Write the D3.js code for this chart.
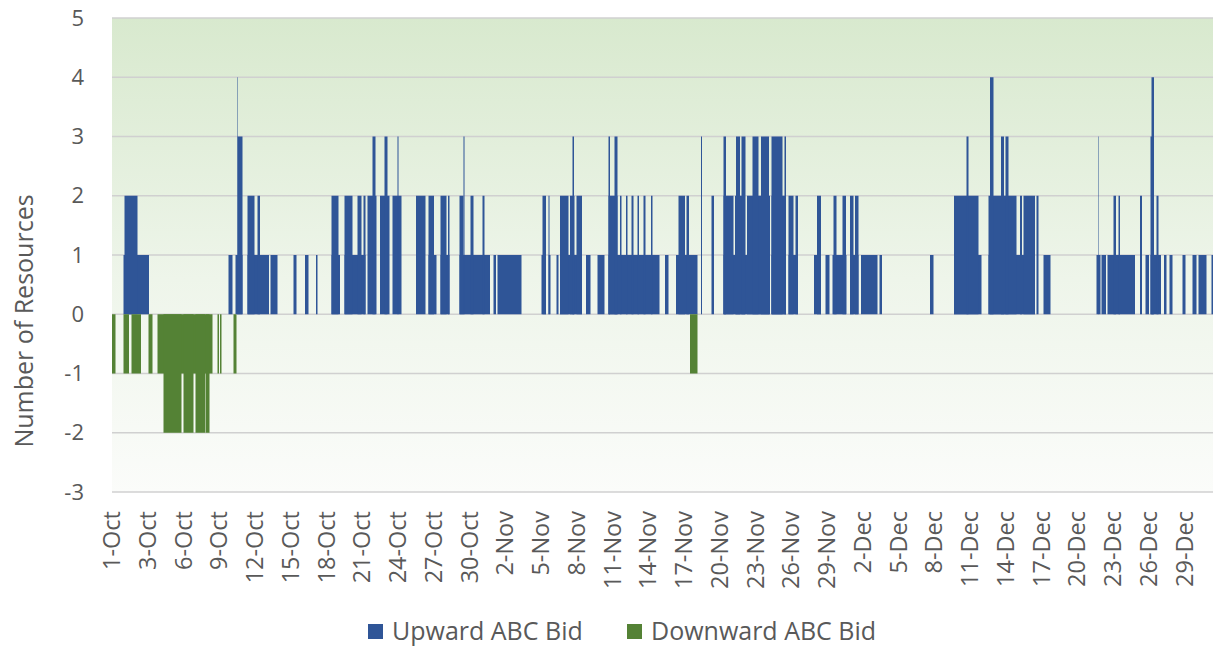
<!DOCTYPE html>
<html>
<head>
<meta charset="utf-8">
<script src="https://cdn.jsdelivr.net/npm/d3@7"></script>
<style>
  body { margin: 0; background: #fff; }
  text { font-family: 'Open Sans', sans-serif; fill: #595959; }
</style>
</head>
<body>
<div id="chart"></div>
<script>
// x labels, one every ~71.5 hourly periods
var tickLabels = ['1-Oct','3-Oct','6-Oct','9-Oct','12-Oct','15-Oct','18-Oct','21-Oct','24-Oct','27-Oct','30-Oct',
  '2-Nov','5-Nov','8-Nov','11-Nov','14-Nov','17-Nov','20-Nov','23-Nov','26-Nov','29-Nov',
  '2-Dec','5-Dec','8-Dec','11-Dec','14-Dec','17-Dec','20-Dec','23-Dec','26-Dec','29-Dec']
var tickStep = 71.5
var yTicks = [-3, -2, -1, 0, 1, 2, 3, 4, 5]
var totalHours = 2202

// [start hour, end hour, number of resources]
var upwardRuns = [
  [23,74,1],[25,51,2],
  [233,241,1],[247,261,1],[251,261,3],[251,252,4],
  [271,314,1],[271,285,2],[291,296,2],[317,331,1],
  [363,369,1],[386,393,1],[408,411,1],
  [439,456,1],[439,453,2],
  [465,507,1],[465,481,2],[491,499,2],[503,507,2],
  [511,529,2],[521,527,3],[536,555,2],[545,551,3],[561,579,2],[571,573,3],
  [608,627,2],[633,649,1],[633,644,2],[657,675,1],[657,669,2],[672,675,2],
  [695,756,1],[695,703,2],[703,705,3],[717,723,2],[741,745,2],
  [763,768,1],[771,819,1],
  [859,868,1],[861,868,2],[873,877,1],[873,875,2],[889,893,1],
  [896,940,1],[896,913,2],[916,925,2],[921,924,3],[929,940,2],
  [948,957,1],[971,985,1],
  [993,1095,1],[993,1011,2],[993,996,3],[1005,1011,3],
  [1016,1019,2],[1028,1031,2],[1039,1043,2],[1051,1054,2],[1063,1067,2],[1078,1081,2],
  [1106,1113,1],[1128,1171,1],[1133,1146,2],[1149,1154,2],[1178,1180,3],
  [1199,1204,2],
  [1223,1316,1],[1319,1348,1],
  [1223,1243,2],[1246,1266,2],[1270,1316,2],[1319,1348,2],
  [1223,1228,3],[1248,1256,3],[1259,1267,3],[1281,1293,3],[1298,1314,3],[1319,1341,3],[1345,1348,3],
  [1353,1372,1],[1353,1363,2],[1367,1372,2],
  [1404,1418,1],[1410,1418,2],[1427,1435,1],
  [1441,1469,1],[1443,1449,2],[1461,1468,2],
  [1476,1493,1],[1476,1483,2],[1486,1493,2],
  [1498,1531,1],[1535,1540,1],[1636,1643,1],
  [1684,1739,1],[1684,1733,2],[1709,1713,3],
  [1753,1846,1],[1753,1809,2],[1816,1820,2],[1823,1846,2],[1756,1763,4],[1778,1784,3],[1787,1793,3],
  [1849,1853,2],[1863,1877,1],
  [1969,1977,1],[1979,1988,1],[1991,2046,1],[1973,1974,3],[2003,2008,2],[2013,2016,2],
  [2056,2060,2],[2067,2074,1],
  [2077,2098,1],[2077,2083,3],[2079,2084,4],[2089,2093,2],
  [2104,2109,1],[2115,2121,1],[2141,2147,1],[2161,2169,1],[2173,2189,1],[2199,2202,1]
]

var downwardRuns = [
  [0,7,-1],[23,34,-1],[39,58,-1],[73,81,-1],[91,201,-1],
  [103,139,-2],[143,163,-2],[167,187,-2],[188,195,-2],
  [211,214,-1],[216,219,-1],[243,249,-1],
  [1156,1171,-1]
]

var width = 1213, height = 648
var plotLeft = 112, plotRight = 1213, plotTop = 18, plotBottom = 492

var svg = d3.select('#chart')
  .append('svg')
  .attr('width', width)
  .attr('height', height)

var x = d3.scaleLinear().domain([0, totalHours]).range([plotLeft, plotRight])
var y = d3.scaleLinear().domain([-3, 5]).range([plotBottom, plotTop])

//plot background
var grad = svg.append('defs').append('linearGradient')
  .attr('id', 'bg')
  .attr('x1', 0).attr('y1', 0).attr('x2', 0).attr('y2', 1)
grad.append('stop').attr('offset', '0%').attr('stop-color', '#d8e9ce')
grad.append('stop').attr('offset', '55%').attr('stop-color', '#eef5ea')
grad.append('stop').attr('offset', '100%').attr('stop-color', '#fbfcfa')

svg.append('rect')
  .attr('x', plotLeft)
  .attr('y', plotTop)
  .attr('width', plotRight - plotLeft)
  .attr('height', plotBottom - plotTop)
  .attr('fill', 'url(#bg)')

//gridlines
svg.selectAll('.grid')
  .data(yTicks)
  .enter().append('line')
  .attr('x1', plotLeft)
  .attr('x2', plotRight)
  .attr('y1', d => y(d))
  .attr('y2', d => y(d))
  .attr('stroke', '#d0d0d0')
  .attr('stroke-width', 1.3)

// bars
function drawRuns(runs, color){
  svg.append('g').selectAll('rect')
    .data(runs)
    .enter().append('rect')
    .attr('x', d => x(d[0]))
    .attr('width', d => x(d[1]) - x(d[0]))
    .attr('y', d => y(Math.max(0, d[2])))
    .attr('height', d => Math.abs(y(d[2]) - y(0)))
    .attr('fill', color)
}
drawRuns(upwardRuns, '#2f5597')
drawRuns(downwardRuns, '#548235')

//y axis labels
svg.selectAll('.ylab')
  .data(yTicks)
  .enter().append('text')
  .attr('x', 84)
  .attr('y', d => y(d))
  .attr('dy', '0.35em')
  .attr('text-anchor', 'end')
  .attr('font-size', 22)
  .text(d => d)

svg.append('text')
  .attr('transform', 'translate(33,321) rotate(-90)')
  .attr('text-anchor', 'middle')
  .attr('font-size', 25)
  .text('Number of Resources')

//x axis labels
svg.selectAll('.xlab')
  .data(tickLabels)
  .enter().append('text')
  .attr('transform', (d, i) => 'translate(' + x(i * tickStep) + ',511) rotate(-90)')
  .attr('dy', '0.35em')
  .attr('text-anchor', 'end')
  .attr('font-size', 23.5)
  .text(d => d)

// legend
var legend = [['Upward ABC Bid', '#2f5597', 368], ['Downward ABC Bid', '#548235', 627]]
legend.forEach(function(l){
  svg.append('rect')
    .attr('x', l[2]).attr('y', 624)
    .attr('width', 15).attr('height', 15)
    .attr('fill', l[1])
  svg.append('text')
    .attr('x', l[2] + 24)
    .attr('y', 631)
    .attr('dy', '0.35em')
    .attr('font-size', 25)
    .text(l[0])
})
</script>
</body>
</html>
